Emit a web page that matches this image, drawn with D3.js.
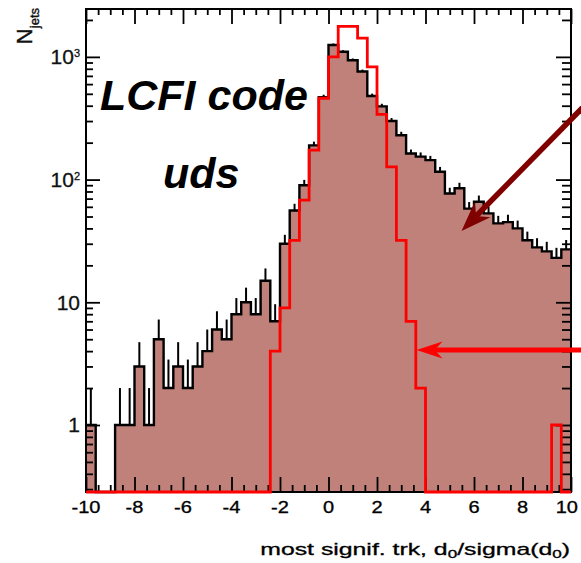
<!DOCTYPE html>
<html><head><meta charset="utf-8">
<script src="https://cdn.jsdelivr.net/npm/d3@7"></script>
<style>body{margin:0;background:#fff;} svg{display:block;}</style>
</head><body>
<svg id="c" width="581" height="563"></svg>
<script>
// ---- data ----
const binStart = -10, binWidth = 0.4;
// black (all) histogram, 50 bins of 0.4 from -10 to 10
const allJets = [1,0,0,1,1,3,1,5,2,3, 2,3,4,6,5,8,10,8,15,7,
                 30,56,90,190,470,1250,1100,940,760,480,
                 395,300,230,163,154,144,116,77,85,58,
                 66,53,44,45,40,32,28,26,23,27];
// red histogram
const redJets = [0,0,0,0,0,0,0,0,0,0, 0,0,0,0,0,0,0,0,0,4,
                 9,32,68,174,460,1000,1770,1770,1420,830,
                 340,127,32,7,2,0,0,0,0,0,
                 0,0,0,0,0,0,0,0,1,0];
const xTickValues = [-10,-8,-6,-4,-2,0,2,4,6,8,10];
const xTickLabels = ["-10","-8","-6","-4","-2","0","2","4","6","8","10"];
const yTickValues = [1,10,100,1000];
const yTickLabels = [["1",""],["10",""],["10","2"],["10","3"]];
const labelMain = "LCFI code";
const labelSub = "uds";

// ---- scales ----
const svg = d3.select("#c");
const L = 86, R = 571, T = 9, B = 492;
const x = d3.scaleLinear().domain([-10,10]).range([L,R]);
const y = d3.scaleLog().domain([0.2844,2456]).range([B,T]);
const yv = v => v > 0 ? y(v) : B;

function stepPts(vals){
  const pts = [];
  vals.forEach((v,i)=>{
    const lo = binStart + i*binWidth, hi = lo + binWidth;
    pts.push([x(lo), yv(v)], [x(hi), yv(v)]);
  });
  return pts;
}
const fillCol = "rgb(191,129,121)";
const blackPts = stepPts(allJets);
const redPts = stepPts(redJets);

// fill
svg.append("path")
  .attr("d", d3.line()([[x(-10),B], ...blackPts, [x(10),B]]) + "Z")
  .attr("fill", fillCol).attr("stroke","none");

// error bars (upper half visible)
svg.append("g").selectAll("line").data(allJets.map((v,i)=>({v,i})).filter(d=>d.v>0))
  .join("line")
  .attr("x1", d=>x(binStart+(d.i+0.5)*binWidth))
  .attr("x2", d=>x(binStart+(d.i+0.5)*binWidth))
  .attr("y1", d=>y(d.v))
  .attr("y2", d=>y(d.v+Math.sqrt(d.v)))
  .attr("stroke","#000").attr("stroke-width",2);

// black outline
svg.append("path").attr("d", d3.line()(blackPts))
  .attr("fill","none").attr("stroke","#000").attr("stroke-width",2.4)
  .attr("stroke-linejoin","miter");

// ---- axes (ROOT style, inward ticks) ----
const yMinor = [];
[0.1,1,10,100,1000].forEach(d=>{ for(let k=2;k<=9;k++){ const t=d*k; if(t>=0.2844 && t<=2456) yMinor.push(t);} });
const xMinor = d3.range(-10,10.001,0.5).filter(v=>Math.abs(v%2)>0.01);

function styleAxis(g){ g.select(".domain").remove(); g.selectAll("line").attr("stroke","#000").attr("stroke-width",1.8); g.selectAll("text").remove(); }

svg.append("g").attr("transform",`translate(${L},0)`).call(d3.axisLeft(y).tickValues(yTickValues).tickSize(-14).tickFormat("")).call(styleAxis);
svg.append("g").attr("transform",`translate(${L},0)`).call(d3.axisLeft(y).tickValues(yMinor).tickSize(-7).tickFormat("")).call(styleAxis);
svg.append("g").attr("transform",`translate(${R},0)`).call(d3.axisRight(y).tickValues(yTickValues).tickSize(-15).tickFormat("")).call(styleAxis);
svg.append("g").attr("transform",`translate(${R},0)`).call(d3.axisRight(y).tickValues(yMinor).tickSize(-9).tickFormat("")).call(styleAxis);
svg.append("g").attr("transform",`translate(0,${B})`).call(d3.axisBottom(x).tickValues(xTickValues).tickSize(-15).tickFormat("")).call(styleAxis);
svg.append("g").attr("transform",`translate(0,${B})`).call(d3.axisBottom(x).tickValues(xMinor).tickSize(-7).tickFormat("")).call(styleAxis);
svg.append("g").attr("transform",`translate(0,${T})`).call(d3.axisTop(x).tickValues(xTickValues).tickSize(-15).tickFormat("")).call(styleAxis);
svg.append("g").attr("transform",`translate(0,${T})`).call(d3.axisTop(x).tickValues(xMinor).tickSize(-6).tickFormat("")).call(styleAxis);

// frame
svg.append("rect").attr("x",L).attr("y",T).attr("width",R-L).attr("height",B-T)
  .attr("fill","none").attr("stroke","#000").attr("stroke-width",2);

// red outline (on top, including zero bins along the bottom)
svg.append("path").attr("d", d3.line()(redPts))
  .attr("fill","none").attr("stroke","#ff0000").attr("stroke-width",2.8)
  .attr("stroke-linejoin","miter");

const font = "'Liberation Sans', Arial, Helvetica, sans-serif";

// x tick labels
xTickValues.forEach((v,i)=>{
  const sx = 1.25;
  const t = svg.append("text").attr("text-anchor","middle").attr("font-family",font).attr("font-size",16)
    .attr("fill","#000").attr("stroke","#000").attr("stroke-width",0.3).text(xTickLabels[i]);
  const hw = t.node().getComputedTextLength()*sx/2;
  const cx = Math.min(x(v), 578 - hw);
  t.attr("transform",`translate(${cx},513) scale(${sx},1)`);
});
// y tick labels
yTickValues.forEach((v,i)=>{
  const t = svg.append("text").attr("x",80).attr("y",y(v)+7.5)
    .attr("text-anchor","end").attr("font-family",font).attr("font-size",21)
    .attr("fill","#111").attr("stroke","#111").attr("stroke-width",0.3);
  t.append("tspan").text(yTickLabels[i][0]);
  if (yTickLabels[i][1]) t.append("tspan").attr("font-size",11).attr("dy",-7).text(yTickLabels[i][1]);
});

// x axis title
const xt = svg.append("text").attr("text-anchor","end").attr("font-family",font).attr("font-size",16)
  .attr("fill","#000").attr("stroke","#000").attr("stroke-width",0.3);
xt.append("tspan").text("most signif. trk, d");
xt.append("tspan").attr("font-size",11).attr("dy",3).text("0");
xt.append("tspan").attr("dy",-3).text("/sigma(d");
xt.append("tspan").attr("font-size",11).attr("dy",3).text("0");
xt.append("tspan").attr("dy",-3).text(")");
const natW = xt.node().getComputedTextLength();
xt.attr("transform",`translate(570,555) scale(${310/natW},1)`);

// y axis title
const yt = svg.append("text").attr("transform","translate(32,8) rotate(-90)")
  .attr("text-anchor","end").attr("font-family",font).attr("font-size",22)
  .attr("fill","#111").attr("stroke","#111").attr("stroke-width",0.4);
yt.append("tspan").text("N");
yt.append("tspan").attr("font-size",13).attr("dy",7).text("jets");

// labels
svg.append("text").attr("x",100).attr("y",110).attr("font-family",font)
  .attr("font-size",43).attr("font-weight","bold").attr("font-style","italic").text(labelMain);
svg.append("text").attr("x",163).attr("y",188).attr("font-family",font)
  .attr("font-size",43).attr("font-weight","bold").attr("font-style","italic").text(labelSub);

// arrows
function arrow(x0,y0,x1,y1,col,w,hl,hw){
  const dx=x1-x0, dy=y1-y0, len=Math.hypot(dx,dy), ux=dx/len, uy=dy/len, px=-uy, py=ux;
  const bx=x1-ux*hl, by=y1-uy*hl;
  const nx=x1-ux*hl*0.7, ny=y1-uy*hl*0.7;
  svg.append("line").attr("x1",x0).attr("y1",y0).attr("x2",nx).attr("y2",ny)
    .attr("stroke",col).attr("stroke-width",w);
  svg.append("path").attr("d",`M${x1},${y1}L${bx+px*hw},${by+py*hw}L${nx},${ny}L${bx-px*hw},${by-py*hw}Z`)
    .attr("fill",col);
}
arrow(592,98,461.5,231,"#800000",5.5,30,11);
arrow(590,350,416.5,350,"#ff0000",5,26,8.5);
</script>
</body></html>
